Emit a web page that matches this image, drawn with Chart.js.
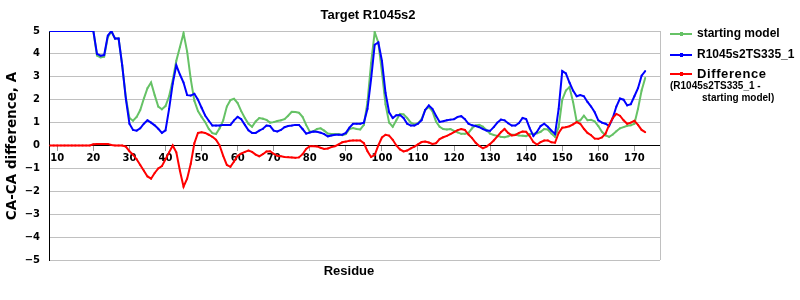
<!DOCTYPE html>
<html>
<head>
<meta charset="utf-8">
<title>Target R1045s2</title>
<script src="https://cdn.jsdelivr.net/npm/chart.js@4.4.1/dist/chart.umd.min.js"></script>
<style>
  html, body { margin: 0; padding: 0; background: #fff; }
  #wrap { width: 800px; height: 300px; }
</style>
</head>
<body>
<div id="wrap"><canvas id="chart" width="800" height="300"></canvas></div>
<script>
// Residues 8..173, one value per residue
const firstResidue = 8;

const startingModel = [
    5, 5,
    5, 5, 5, 5, 5, 5, 5, 5, 5, 5,
    5, 3.93, 3.85, 3.88, 4.73, 4.98, 4.67, 4.67, 3.5, 2.1,
    1.2, 1.08, 1.25, 1.55, 2.05, 2.5, 2.75, 2.2, 1.7, 1.58,
    1.72, 2.15, 2.85, 3.7, 4.3, 4.9, 4.1, 2.9, 1.95, 1.5,
    1.25, 1.02, 0.72, 0.54, 0.5, 0.75, 1.1, 1.7, 1.98, 2.04,
    1.85, 1.5, 1.2, 0.95, 0.82, 1.05, 1.2, 1.17, 1.12, 1.0,
    1.02, 1.07, 1.1, 1.15, 1.3, 1.47, 1.46, 1.43, 1.25, 0.9,
    0.6, 0.62, 0.72, 0.75, 0.65, 0.52, 0.5, 0.5, 0.5, 0.45,
    0.5, 0.72, 0.76, 0.72, 0.7, 0.9, 1.9, 3.6, 4.95, 4.5,
    3.2, 1.8, 1.0, 0.82, 1.1, 1.38, 1.36, 1.2, 1.0, 0.92,
    0.97, 1.15, 1.55, 1.68, 1.5, 1.05, 0.82, 0.72, 0.7, 0.72,
    0.64, 0.57, 0.51, 0.51, 0.55, 0.75, 0.88, 0.9, 0.82, 0.68,
    0.52, 0.46, 0.42, 0.38, 0.36, 0.4, 0.47, 0.47, 0.44, 0.43,
    0.41, 0.5, 0.51, 0.53, 0.6, 0.72, 0.7, 0.52, 0.38, 0.8,
    2.0, 2.4, 2.55, 1.9, 1.05, 1.1, 1.3, 1.1, 1.12, 1.05,
    0.85, 0.6, 0.44, 0.38, 0.48, 0.62, 0.75, 0.8, 0.86, 0.88,
    0.95, 1.6, 2.4, 2.95
];

const modelTS335 = [
    5, 5,
    5, 5, 5, 5, 5, 5, 5, 5, 5, 5,
    5, 4.0, 3.92, 3.95, 4.8, 5.0, 4.67, 4.67, 3.5, 2.05,
    0.95, 0.68, 0.65, 0.75, 0.95, 1.1, 1.0, 0.88, 0.73, 0.55,
    0.66, 1.6, 2.7, 3.5, 3.1, 2.75, 2.2, 2.18, 2.26, 2.0,
    1.65, 1.31, 1.08, 0.87, 0.87, 0.87, 0.9, 0.9, 0.9, 1.1,
    1.25, 1.15, 0.9, 0.66, 0.55, 0.55, 0.65, 0.73, 0.87, 0.85,
    0.65, 0.61, 0.68, 0.8, 0.85, 0.87, 0.9, 0.9, 0.72, 0.52,
    0.57, 0.61, 0.6, 0.56, 0.5, 0.4, 0.44, 0.47, 0.47, 0.47,
    0.55, 0.78, 0.95, 0.95, 0.95, 1.0, 1.6, 2.9, 4.4, 4.5,
    3.7, 2.3, 1.45, 1.2, 1.32, 1.33, 1.2, 0.95, 0.87, 0.87,
    0.95, 1.1, 1.55, 1.75, 1.6, 1.3, 1.03, 1.06, 1.1, 1.13,
    1.15, 1.25, 1.28, 1.15, 0.95, 0.88, 0.85, 0.8, 0.72, 0.65,
    0.64, 0.8, 1.0, 1.13, 1.1, 0.97, 0.87, 0.87, 0.98, 1.2,
    1.15, 0.75, 0.42, 0.6, 0.85, 0.95, 0.82, 0.65, 0.5, 1.6,
    3.25, 3.15, 2.75, 2.4, 2.15, 2.2, 2.15, 1.9, 1.7, 1.45,
    1.1, 1.0, 0.95, 0.85, 1.2, 1.7, 2.05, 2.0, 1.75, 1.8,
    2.15, 2.5, 3.05, 3.25
];

const difference = [
    0, 0,
    0, 0, 0, 0, 0, 0, 0, 0, 0, 0,
    0.05, 0.07, 0.07, 0.07, 0.07, 0.02, 0, 0, 0, -0.05,
    -0.25, -0.4, -0.6, -0.85, -1.1, -1.35, -1.45, -1.2, -1.0, -0.9,
    -0.6, -0.3, 0, -0.3, -1.1, -1.8, -1.45, -0.8, 0.1, 0.55,
    0.58, 0.55, 0.47, 0.38, 0.25, 0, -0.45, -0.85, -0.93, -0.7,
    -0.45, -0.35, -0.28, -0.22, -0.28, -0.4, -0.47, -0.38, -0.26, -0.25,
    -0.36, -0.45, -0.47, -0.5, -0.51, -0.52, -0.54, -0.52, -0.38, -0.15,
    -0.03, -0.03, -0.04, -0.1, -0.15, -0.13, -0.07, -0.03, 0.05, 0.14,
    0.17, 0.21, 0.22, 0.22, 0.22, 0.1, -0.25, -0.5, -0.42, 0,
    0.35, 0.47, 0.43, 0.25, 0, -0.17, -0.26, -0.22, -0.13, -0.05,
    0.05, 0.15, 0.17, 0.13, 0.07, 0.1, 0.28, 0.36, 0.42, 0.5,
    0.58, 0.67, 0.72, 0.68, 0.48, 0.32, 0.12, -0.02, -0.12, -0.05,
    0.07, 0.22, 0.4, 0.58, 0.72, 0.55, 0.44, 0.46, 0.55, 0.61,
    0.6, 0.4, 0.15, 0.04, 0.15, 0.22, 0.22, 0.14, 0.12, 0.55,
    0.78, 0.8, 0.84, 0.92, 1.02, 0.95, 0.73, 0.55, 0.45, 0.3,
    0.29, 0.35, 0.52, 0.9, 1.2, 1.38, 1.3, 1.1, 0.95, 1.0,
    1.08, 0.9, 0.68, 0.58
];

const residues = startingModel.map((_, i) => firstResidue + i);

const seriesNames = ['starting model', 'R1045s2TS335_1', 'Difference'];
const seriesColors = ['#66c266', '#0000ff', '#ff0000'];

const chartTitle = 'Target R1045s2';
const xTitle = 'Residue';
const yTitle = 'CA-CA difference, A';

// x axis range
const xMin = 7.7;
const xMax = 177.1;

function toPoints(values) {
    return values.map((v, i) => ({ x: residues[i], y: v }));
}

function makeDataset(idx, values, order) {
    return {
        label: seriesNames[idx],
        data: toPoints(values),
        borderColor: seriesColors[idx],
        backgroundColor: seriesColors[idx],
        borderWidth: 2,
        pointRadius: 1.2,
        pointStyle: 'rect',
        pointBorderWidth: 0,
        pointBackgroundColor: seriesColors[idx],
        tension: 0,
        order: order
    };
}

// Draws title, axis titles, plot frame and the legend
const decorations = {
    id: 'decorations',
    afterDraw(chart) {
        const ctx = chart.ctx;
        const area = chart.chartArea;
        ctx.save();

        // right border of the plot area
        ctx.strokeStyle = '#c0c0c0';
        ctx.lineWidth = 1;
        ctx.beginPath();
        ctx.moveTo(area.right + 0.5, area.top);
        ctx.lineTo(area.right + 0.5, area.bottom);
        ctx.stroke();

        ctx.fillStyle = '#000';
        ctx.textAlign = 'center';
        ctx.textBaseline = 'middle';
        ctx.font = 'bold 13px "Liberation Sans", Arial, sans-serif';
        ctx.fillText(chartTitle, 368, 15);

        ctx.font = 'bold 13px "Liberation Sans", Arial, sans-serif';
        ctx.fillText(xTitle, 349, 271);

        ctx.save();
        ctx.translate(12, 146);
        ctx.rotate(-Math.PI / 2);
        ctx.font = 'bold 13.5px "DejaVu Sans", Verdana, sans-serif';
        ctx.fillText(yTitle, 0, 0);
        ctx.restore();

        // legend
        const rows = [34, 55, 74];
        ctx.textAlign = 'left';
        rows.forEach((y, i) => {
            ctx.strokeStyle = seriesColors[i];
            ctx.lineWidth = 2;
            ctx.beginPath();
            ctx.moveTo(670, y);
            ctx.lineTo(692, y);
            ctx.stroke();
            ctx.fillStyle = seriesColors[i];
            ctx.fillRect(680, y - 2, 3, 4);
            ctx.fillStyle = '#000';
            if (i === 2) {
                ctx.font = 'bold 13px "Liberation Sans", Arial, sans-serif';
                ctx.letterSpacing = '0.6px';
            } else {
                ctx.font = 'bold 12px "Liberation Sans", Arial, sans-serif';
                ctx.letterSpacing = '0px';
            }
            ctx.fillText(seriesNames[i], 697, y);
        });
        ctx.letterSpacing = '0px';
        ctx.font = 'bold 10px "Liberation Sans", Arial, sans-serif';
        ctx.fillText('(R1045s2TS335_1 -', 670, 86);
        ctx.fillText('starting model)', 702, 98);

        ctx.restore();
    }
};

const tickFont = { family: '"DejaVu Sans", Verdana, sans-serif', size: 10, weight: 'bold' };

new Chart(document.getElementById('chart'), {
    type: 'line',
    data: {
        datasets: [
            makeDataset(0, startingModel, 3),
            makeDataset(1, modelTS335, 2),
            makeDataset(2, difference, 1)
        ]
    },
    options: {
        responsive: false,
        animation: false,
        layout: { padding: { left: 0, right: 140, top: 31, bottom: 40 } },
        plugins: {
            legend: { display: false },
            title: { display: false },
            tooltip: { enabled: false }
        },
        scales: {
            x: {
                type: 'linear',
                min: xMin,
                max: xMax,
                position: { y: 0 },
                border: { color: '#000', width: 1 },
                grid: { drawOnChartArea: false, tickLength: 5, color: '#999' },
                ticks: {
                    stepSize: 10,
                    includeBounds: false,
                    autoSkip: false,
                    maxRotation: 0,
                    padding: 2,
                    color: '#000',
                    font: tickFont
                }
            },
            y: {
                min: -5,
                max: 5,
                border: { color: '#000', width: 1 },
                grid: { color: '#c0c0c0', drawTicks: false },
                ticks: {
                    stepSize: 1,
                    padding: 9,
                    color: '#000',
                    font: tickFont,
                    callback: v => (v < 0 ? '\u2212' + Math.abs(v) : String(v))
                },
                afterFit(scale) { scale.width = 49; }
            }
        }
    },
    plugins: [decorations]
});
</script>
</body>
</html>
